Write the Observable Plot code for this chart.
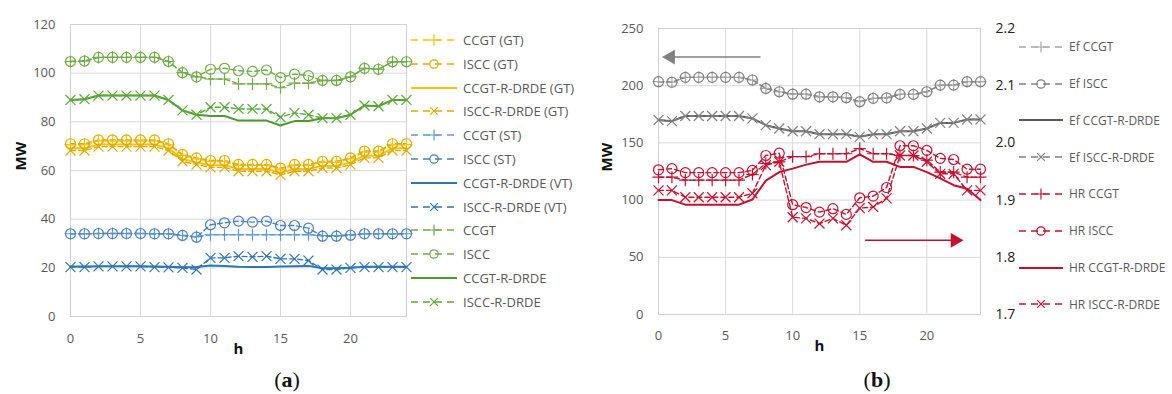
<!DOCTYPE html>
<html><head><meta charset="utf-8">
<script src="https://cdn.jsdelivr.net/npm/d3@7"></script>
<script src="https://cdn.jsdelivr.net/npm/@observablehq/plot@0.6"></script>
<style>
body{margin:0;background:#fff;}
#root{position:relative;width:1172px;height:394px;overflow:hidden;font-family:"Open Sans",sans-serif;background:#fff;}
.panel{position:absolute;top:0;}
.leg{position:absolute;display:flex;align-items:center;font-size:12px;color:#595959;white-space:nowrap;}
.leg svg{display:block;margin-right:6px;}
.cap{position:absolute;font-family:"Liberation Serif",serif;font-size:22px;color:#111;transform:translate(-50%,-50%);}
</style></head><body><div id="root"></div>
<script>
// ---------- data ----------
const hours = [0,1,2,3,4,5,6,7,8,9,10,11,12,13,14,15,16,17,18,19,20,21,22,23,24];

// Panel (a): MW
const ccgtGT      = [70.6,70.6,72.2,72.2,72.2,72.2,72.2,70.6,66.2,64.8,63.7,63.7,62.1,62.1,62.1,60.6,62.1,62.1,63.4,63.4,64.8,67.6,67.6,70.6,70.6];
const isccGT      = [71,71,72.6,72.6,72.6,72.6,72.6,71,66.6,65.2,64.1,64.1,62.5,62.5,62.5,61,62.5,62.5,63.8,63.8,65.2,68,68,71,71];
const ccgtRdrdeGT = [69.1,69.1,70.7,70.7,70.7,70.7,70.7,69.1,64.7,63.3,62.2,62.2,60.6,60.6,60.6,59.1,60.6,60.6,61.9,61.9,63.3,66.1,66.1,69.1,69.1];
const isccRdrdeGT = [68.2,68.2,69.8,69.8,69.8,69.8,69.8,68.2,63.8,62.4,61.3,61.3,59.7,59.7,59.7,58.2,59.7,59.7,61,61,62.4,65.2,65.2,68.2,68.2];
const ccgtST      = [34,34,34.1,34.1,34.1,34.1,34,34,33.3,32.8,33.6,33.6,33.6,33.6,33.6,33.6,33.6,33.6,33.2,33.2,33.6,34,34,34,34];
const isccST      = [34,34,34.1,34.1,34.1,34.1,34,34,33.3,32.6,37.7,38.5,39.2,38.8,39.2,37.4,37.4,36.3,33,33,33.4,34,34,34,34];
const ccgtRdrdeVT = [20.5,20.5,20.6,20.6,20.6,20.6,20.5,20.4,20.2,20.3,21,20.8,20.4,20.3,20.3,20.5,20.6,20.8,19.8,19.8,20,20.4,20.4,20.4,20.4];
const isccRdrdeVT = [20.3,20.3,20.6,20.6,20.6,20.6,20.3,20.2,20,19.3,24.1,24.1,24.8,24.5,24.8,23.7,23.7,23,19.3,19.3,20,20.3,20.3,20.3,20.3];
const ccgt        = [104.8,105,106.5,106.5,106.5,106.5,106.5,104.8,100.2,98.5,97.6,97.6,95.6,95.6,95.6,94,95.9,95.9,97,97,98.5,102,101.6,104.7,104.7];
const iscc        = [104.8,105,106.5,106.5,106.5,106.5,106.5,104.8,100.2,98.5,101.6,102,101,100.7,101.3,98.2,99.6,99,97,97,98.5,102,101.6,104.7,104.7];
const ccgtRdrde   = [89,89.3,90.8,90.8,90.8,90.8,90.8,89,84.7,82.9,82.4,82.4,80.5,80.5,80.5,78.5,80.3,80.3,81.5,81.5,82.9,86.7,86.4,89,89];
const isccRdrde   = [89,89.3,90.8,90.8,90.8,90.8,90.8,89,84.7,82.9,86,86,85.3,85.3,85.3,81.9,83.7,82.9,81.5,81.5,82.9,86.7,86.4,89,89];

// Panel (b): Ef in MW (left axis), HR on right axis
const efCCGT       = [203.5,203,207.3,207.3,207.3,207.3,207.3,205,197.6,194.7,192.6,192.6,190.3,190.3,189.5,186,189,189.4,192.4,192.4,194.7,200.5,200.5,203.5,203.5];
const efISCC       = [203.5,203,207.3,207.3,207.3,207.3,207.3,205,197.6,194.7,192.6,192.6,190.3,190.3,189.5,186,189,189.4,192.4,192.4,194.7,200.5,200.5,203.5,203.5];
const efCCGTRdrde  = [170,169,173.5,173.5,173.5,173.5,173.5,171.4,165.5,162.6,160.2,160.2,157.6,157.6,157.6,155.3,157.6,157.6,160.2,160.2,162.6,167.5,167.5,170.5,170.5];
const efISCCRdrde  = [170,169,173.5,173.5,173.5,173.5,173.5,171.4,165.5,162.6,160.2,160.2,157.6,157.6,157.6,155.3,157.6,157.6,160.2,160.2,162.6,167.5,167.5,170.5,170.5];
const hrCCGT       = [1.940,1.940,1.935,1.935,1.935,1.935,1.935,1.945,1.964,1.967,1.976,1.976,1.981,1.981,1.981,1.990,1.981,1.981,1.978,1.978,1.970,1.949,1.949,1.940,1.940];
const hrISCC       = [1.953,1.955,1.948,1.948,1.948,1.948,1.948,1.952,1.978,1.982,1.892,1.887,1.879,1.885,1.875,1.904,1.907,1.922,1.995,1.995,1.987,1.973,1.971,1.954,1.954];
const hrCCGTRdrde  = [1.900,1.900,1.892,1.892,1.892,1.892,1.892,1.901,1.934,1.949,1.955,1.962,1.967,1.967,1.967,1.980,1.967,1.967,1.958,1.958,1.949,1.938,1.926,1.920,1.900];
const hrISCCRdrde  = [1.917,1.917,1.905,1.905,1.905,1.905,1.905,1.912,1.961,1.967,1.870,1.868,1.859,1.868,1.856,1.886,1.888,1.903,1.978,1.978,1.967,1.946,1.946,1.917,1.917];

const xTicks  = [0,5,10,15,20];
const yTicksA = [0,20,40,60,80,100,120];
const yTicksB = [0,50,100,150,200,250];
const hrTicks = [1.7,1.8,1.9,2.0,2.1,2.2];

// ---------- styles ----------
const GOLD="#FFC000", GOLD2="#E2AA00", BL1="#5B9BD5", BL2="#4A7FC8", BL3="#2E75B6", GR1="#70AD47", GR2="#4E9A2E", GR3="#5AAA38";
const G1="#A6A6A6", G2="#808080", G3="#595959", RED="#C8102E";

const seriesA = [
  {name:"CCGT (GT)",        values:ccgtGT,      color:GOLD,  dash:true,  symbol:"plus"},
  {name:"ISCC (GT)",        values:isccGT,      color:GOLD2, dash:true,  symbol:"circle"},
  {name:"CCGT-R-DRDE (GT)", values:ccgtRdrdeGT, color:GOLD,  dash:false},
  {name:"ISCC-R-DRDE (GT)", values:isccRdrdeGT, color:GOLD2, dash:true,  symbol:"times"},
  {name:"CCGT (ST)",        values:ccgtST,      color:BL1,   dash:true,  symbol:"plus"},
  {name:"ISCC (ST)",        values:isccST,      color:BL2,   dash:true,  symbol:"circle"},
  {name:"CCGT-R-DRDE (VT)", values:ccgtRdrdeVT, color:BL3,   dash:false},
  {name:"ISCC-R-DRDE (VT)", values:isccRdrdeVT, color:BL3,   dash:true,  symbol:"times"},
  {name:"CCGT",             values:ccgt,        color:GR1,   dash:true,  symbol:"plus"},
  {name:"ISCC",             values:iscc,        color:GR1,   dash:true,  symbol:"circle"},
  {name:"CCGT-R-DRDE",      values:ccgtRdrde,   color:GR2,   dash:false},
  {name:"ISCC-R-DRDE",      values:isccRdrde,   color:GR3,   dash:true,  symbol:"times"}
];
const toMW = v => (v - 1.7) * 500;       // right axis (HR) -> left axis (MW) position
const fromMW = m => 1.7 + m / 500;
const seriesB = [
  {name:"Ef CCGT",         values:efCCGT,      color:G1,  dash:true,  symbol:"plus"},
  {name:"Ef ISCC",         values:efISCC,      color:G2,  dash:true,  symbol:"circle"},
  {name:"Ef CCGT-R-DRDE",  values:efCCGTRdrde, color:G3,  dash:false},
  {name:"Ef ISCC-R-DRDE",  values:efISCCRdrde, color:G2,  dash:true,  symbol:"times"},
  {name:"HR CCGT",         values:hrCCGT,      color:RED, dash:true,  symbol:"plus",   hr:true},
  {name:"HR ISCC",         values:hrISCC,      color:RED, dash:true,  symbol:"circle", hr:true},
  {name:"HR CCGT-R-DRDE",  values:hrCCGTRdrde, color:RED, dash:false, hr:true},
  {name:"HR ISCC-R-DRDE",  values:hrISCCRdrde, color:RED, dash:true,  symbol:"times",  hr:true}
];

const symR = {circle:5, plus:4, times:4.6};
function seriesMarks(series){
  const lines=[], dots=[];
  for (const s of series){
    const data = hours.map((h,i)=>({h, v: s.hr ? toMW(s.values[i]) : s.values[i]}));
    lines.push(Plot.line(data,{x:"h",y:"v",stroke:s.color,strokeWidth:s.dash?1.4:2,...(s.dash?{strokeDasharray:"5,3"}:{})}));
    if (s.symbol) dots.push(Plot.dot(data,{x:"h",y:"v",symbol:s.symbol,r:symR[s.symbol],stroke:s.color,fill:"none",strokeWidth:1.2}));
  }
  return [...lines,...dots];
}

const root = document.getElementById("root");
const font = {fontFamily:"Open Sans, sans-serif", fontSize:"13px", color:"#595959", background:"transparent", overflow:"visible"};

// ---------- panel (a) ----------
const plotA = Plot.plot({
  width:410, height:362, marginLeft:70, marginRight:4, marginTop:24, marginBottom:46,
  style:font,
  x:{domain:[0,24]}, y:{domain:[0,120]},
  marks:[
    Plot.gridX(xTicks,{stroke:"#d9d9d9",strokeOpacity:1}),
    Plot.gridY(yTicksA,{stroke:"#d9d9d9",strokeOpacity:1}),
    Plot.frame({stroke:"#d0d0d0"}),
    Plot.axisX(xTicks,{tickSize:0,tickPadding:17,label:null}),
    Plot.axisY(yTicksA,{tickSize:0,tickPadding:15,label:null}),
    Plot.text(["MW"],{frameAnchor:"left",dx:-49,rotate:-90,text:d=>d,fontWeight:"bold",fontSize:15,fill:"#111"}),
    Plot.text(["h"],{frameAnchor:"bottom",dy:37,text:d=>d,fontWeight:"bold",fontSize:15,fill:"#111"}),
    ...seriesMarks(seriesA)
  ]
});
plotA.classList.add("panel"); plotA.style.left="0px";
root.appendChild(plotA);

// ---------- panel (b) ----------
const arrowL = {x1:7.6, x2:0.9, y:225};
const arrowR = {x1:15.4, x2:22.1, y:64.8};
const plotB = Plot.plot({
  width:460, height:362, marginLeft:98, marginRight:40, marginTop:28, marginBottom:48,
  style:font,
  x:{domain:[0,24]}, y:{domain:[0,250]},
  marks:[
    Plot.gridX(xTicks,{stroke:"#d9d9d9",strokeOpacity:1}),
    Plot.gridY(yTicksB,{stroke:"#d9d9d9",strokeOpacity:1}),
    Plot.frame({stroke:"#d0d0d0"}),
    Plot.axisX(xTicks,{tickSize:0,tickPadding:16,label:null}),
    Plot.axisY(yTicksB,{tickSize:0,tickPadding:15,label:null}),
    Plot.axisY(hrTicks.map(toMW),{anchor:"right",tickSize:0,tickPadding:15,label:null,tickFormat:d=>fromMW(d).toFixed(1),fill:"#222",fontSize:14}),
    Plot.text(["MW"],{frameAnchor:"left",dx:-51,rotate:-90,text:d=>d,fontWeight:"bold",fontSize:15,fill:"#111"}),
    Plot.text(["h"],{frameAnchor:"bottom",dy:36,text:d=>d,fontWeight:"bold",fontSize:15,fill:"#111"}),
    ...seriesMarks(seriesB),
    Plot.link([arrowL],{x1:"x1",x2:"x2",y1:"y",y2:"y",stroke:G2,strokeWidth:1.5}),
    Plot.dot([arrowL],{x:"x2",y:"y",symbol:"triangle",r:5.5,fill:G2,rotate:-90}),
    Plot.link([arrowR],{x1:"x1",x2:"x2",y1:"y",y2:"y",stroke:RED,strokeWidth:1.5}),
    Plot.dot([arrowR],{x:"x2",y:"y",symbol:"triangle",r:5.5,fill:RED,rotate:90})
  ]
});
plotB.classList.add("panel"); plotB.style.left="560px";
root.appendChild(plotB);

// ---------- legends ----------
const symMap = {plus:d3.symbolPlus, circle:d3.symbolCircle, times:d3.symbolTimes};
function legend(series, x, y0, dy, w, fs){
  series.forEach((s,i)=>{
    const div=document.createElement("div");
    div.className="leg"; div.style.left=x+"px"; div.style.top=(y0+i*dy-9)+"px"; div.style.height="18px";
    div.style.fontSize=fs+"px";
    const svg=d3.create("svg").attr("width",w).attr("height",18);
    svg.append("line").attr("x1",0).attr("x2",w).attr("y1",9).attr("y2",9)
      .attr("stroke",s.color).attr("stroke-width",s.dash?1.4:2)
      .attr("stroke-dasharray",s.dash?"7,5":null);
    if (s.symbol){
      svg.append("path").attr("transform",`translate(${w/2},9)`)
        .attr("d",d3.symbol(symMap[s.symbol],s.symbol==="circle"?55:40)()).attr("fill","none").attr("stroke",s.color).attr("stroke-width",1.2);
    }
    div.appendChild(svg.node());
    const t=document.createElement("span"); t.textContent=s.name; div.appendChild(t);
    root.appendChild(div);
  });
}
legend(seriesA, 411, 40, 23.8, 46, 13);
legend(seriesB, 1019, 46.7, 36.8, 44, 12);

// ---------- captions ----------
for (const [txt,x] of [["a",287],["b",877]]){
  const c=document.createElement("div"); c.className="cap";
  c.style.left=x+"px"; c.style.top="380px";
  c.innerHTML="(<b>"+txt+"</b>)";
  root.appendChild(c);
}
</script></body></html>
